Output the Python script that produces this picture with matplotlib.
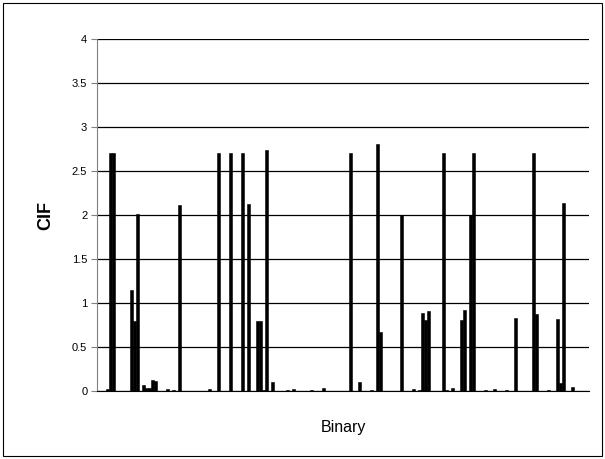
import numpy as np
import matplotlib
matplotlib.use("Agg")
import matplotlib.pyplot as plt
from matplotlib.patches import Rectangle

plt.rcParams['font.family'] = ['Liberation Sans', 'DejaVu Sans']

# Data: category count and non-zero CIF values by category index
n_cat = 164
bar_idx = [3, 4, 5, 11, 12, 13, 15, 16, 17, 18, 19, 23, 25, 27, 37, 40, 44, 48, 50,
           53, 54, 55, 56, 58, 63, 65, 71, 75, 84, 87, 91, 93, 94, 101, 105, 107,
           108, 109, 110, 115, 116, 118, 121, 122, 124, 125, 129, 132, 136, 139,
           145, 146, 150, 153, 154, 155, 158]
bar_val = [0.02, 2.71, 2.71, 1.15, 0.80, 2.01, 0.07, 0.03, 0.035, 0.13, 0.12, 0.02, 0.01,
           2.11, 0.02, 2.71, 2.71, 2.71, 2.12, 0.80, 0.80, 0.01, 2.74, 0.10, 0.01, 0.02,
           0.01, 0.035, 2.71, 0.10, 0.01, 2.81, 0.67, 2.00, 0.02, 0.01, 0.89, 0.81,
           0.91, 2.71, 0.01, 0.03, 0.81, 0.92, 2.00, 2.71, 0.01, 0.02, 0.01, 0.83,
           2.71, 0.87, 0.01, 0.82, 0.09, 2.14, 0.05]
y_ticks = [0, 0.5, 1, 1.5, 2, 2.5, 3, 3.5, 4]
y_labels = ['0', '0.5', '1', '1.5', '2', '2.5', '3', '3.5', '4']

cif = np.zeros(n_cat)
cif[bar_idx] = bar_val

fig = plt.figure(figsize=(6.05, 4.59), dpi=100)
ax = fig.add_axes([0.1603, 0.148, 0.8133, 0.767])

# outer chart border
fig.patches.append(Rectangle((0.005, 0.007), 0.99, 0.986, transform=fig.transFigure,
                             fill=False, edgecolor='black', linewidth=0.8))

ax.set_axisbelow(True)
ax.yaxis.grid(True, color='black', linewidth=0.9)
ax.bar(np.arange(n_cat), cif, width=0.9, color='black', edgecolor='black', linewidth=0.4)

ax.set_xlim(-0.5, n_cat - 0.5)
ax.set_ylim(0, 4)
ax.set_yticks(y_ticks)
ax.set_yticklabels(y_labels, fontsize=8)
ax.set_xticks([])
ax.tick_params(axis='y', direction='out', length=4, width=0.8, color='#808080', pad=3)

for s in ['top', 'right']:
    ax.spines[s].set_visible(False)
ax.spines['left'].set_color('#808080')
ax.spines['bottom'].set_color('black')

ax.set_ylabel('CIF', fontsize=13, fontweight='bold', labelpad=13)
ax.set_xlabel('Binary', fontsize=11.5, labelpad=21)

plt.savefig('out.png', dpi=100)
